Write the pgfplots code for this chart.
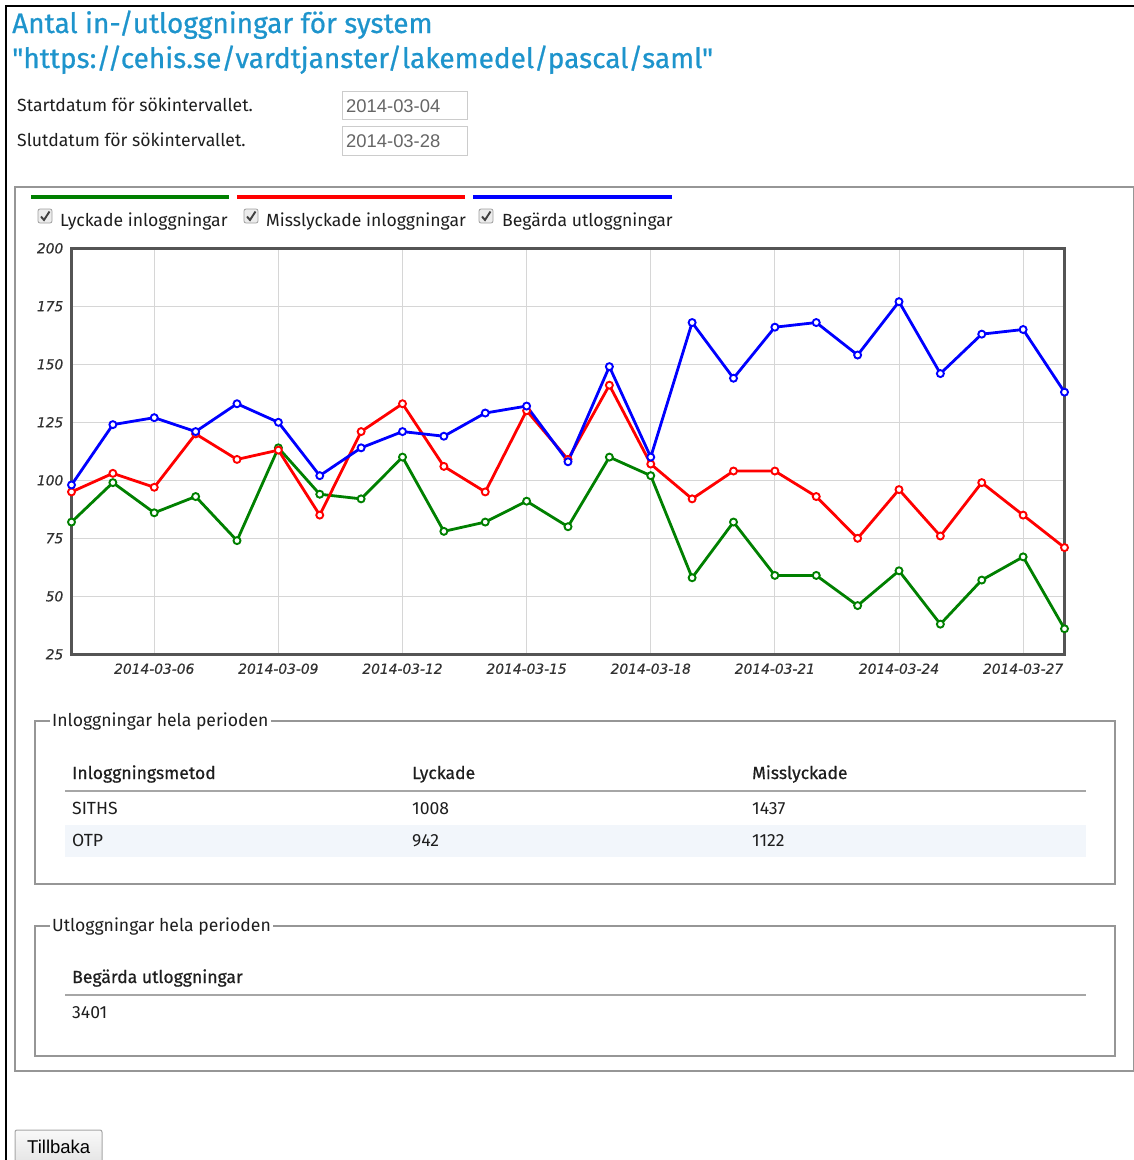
\documentclass[border=0pt]{standalone}
\usepackage{fontspec}
\setmainfont{Fira Sans}
\newfontfamily\titlefont[FakeBold=0.6]{Fira Sans}
\newfontfamily\tickfont[FakeBold=0.4]{DejaVu Sans}
\newfontfamily\inputfont{Liberation Sans}
\usepackage{pgfplots}
\usepackage{pgfplotstable}
\pgfplotsset{compat=1.18}

\definecolor{titleblue}{RGB}{30,148,204}
\definecolor{fgreen}{RGB}{0,128,0}
\definecolor{framegray}{RGB}{84,84,84}
\definecolor{gridgray}{RGB}{214,214,214}
\definecolor{boxgray}{RGB}{150,150,150}
\definecolor{rowbg}{RGB}{242,246,251}
\definecolor{tickgray}{RGB}{50,50,50}
\definecolor{txt}{RGB}{30,30,30}

% day 0 = 2014-03-04
\pgfplotstableread{
day lyck miss beg
0  82  95  98
1  99 103 124
2  86  97 127
3  93 120 121
4  74 109 133
5 114 113 125
6  94  85 102
7  92 121 114
8 110 133 121
9  78 106 119
10 82  95 129
11 91 130 132
12 80 109 108
13 110 141 149
14 102 107 110
15 58  92 168
16 82 104 144
17 59 104 166
18 59  93 168
19 46  75 154
20 61  96 177
21 38  76 146
22 57  99 163
23 67  85 165
24 36  71 138
}\logins

\newcommand{\fs}[1]{\fontsize{#1}{#1}\selectfont}
\newcommand{\body}{\fs{17.6}}
\newcommand{\cbox}[2]{%
  \draw[rounded corners=2pt, draw=gray!75, fill=gray!15, line width=0.8pt] (#1,#2) rectangle ++(14,14);
  \draw[line width=1.9pt, black!75] (#1+3,#2+7.5) -- (#1+6,#2+11) -- (#1+11.5,#2+2.5);}

\begin{document}
\begin{tikzpicture}
\useasboundingbox (0pt,0pt) rectangle (1134pt,-1160pt);
\begin{scope}[x=1pt,y=-1pt]
  % page frame
  \draw[black, line width=1.6pt] (6,1162) -- (6,6) -- (1136,6);
  % heading
  \node[anchor=base west, inner sep=0pt, text=titleblue, font=\titlefont\fs{28}] at (12,33) {Antal in-/utloggningar för system};
  \node[anchor=base west, inner sep=0pt, text=titleblue, font=\titlefont\fs{28}] at (12,68) {\char"22 https://cehis.se/vardtjanster/lakemedel/pascal/saml\char"22};
  % date fields
  \node[anchor=base west, inner sep=0pt, text=txt, font=\body] at (17,111) {Startdatum för sökintervallet.};
  \node[anchor=base west, inner sep=0pt, text=txt, font=\body] at (17,146) {Slutdatum för sökintervallet.};
  \draw[draw=gray!40, fill=white, line width=1pt] (342,91) rectangle (467,119);
  \draw[draw=gray!40, fill=white, line width=1pt] (342,126) rectangle (467,155);
  \node[anchor=base west, inner sep=0pt, text=gray!80!black, font=\inputfont\fs{18.4}] at (346,112) {2014-03-04};
  \node[anchor=base west, inner sep=0pt, text=gray!80!black, font=\inputfont\fs{18.4}] at (346,147) {2014-03-28};
  % outer fieldset
  \draw[draw=boxgray, line width=1.5pt] (15,187) rectangle (1134,1071);
  % legend
  \draw[fgreen, line width=4pt] (31,197) -- (229,197);
  \draw[red, line width=4pt] (237,197) -- (465,197);
  \draw[blue, line width=4pt] (473,197) -- (672,197);
  \cbox{38}{209}
  \cbox{244}{209}
  \cbox{479}{209}
  \node[anchor=base west, inner sep=0pt, text=txt, font=\body] at (60,226) {Lyckade inloggningar};
  \node[anchor=base west, inner sep=0pt, text=txt, font=\body] at (266,226) {Misslyckade inloggningar};
  \node[anchor=base west, inner sep=0pt, text=txt, font=\body] at (502,226) {Begärda utloggningar};
  % fieldset: logins
  \draw[draw=boxgray, line width=1.5pt] (35,721) rectangle (1115,884);
  \node[anchor=west, fill=white, inner xsep=2pt, inner ysep=1pt, text=txt, font=\body] at (50,721) {Inloggningar hela perioden};
  \fill[rowbg] (65,825) rectangle (1086,857);
  \draw[draw=gray!70, line width=1.5pt] (65,791) -- (1086,791);
  \node[anchor=base west, inner sep=0pt, text=txt, font=\titlefont\body] at (72,779) {Inloggningsmetod};
  \node[anchor=base west, inner sep=0pt, text=txt, font=\titlefont\body] at (412,779) {Lyckade};
  \node[anchor=base west, inner sep=0pt, text=txt, font=\titlefont\body] at (752,779) {Misslyckade};
  \node[anchor=base west, inner sep=0pt, text=txt, font=\body] at (72,814) {SITHS};
  \node[anchor=base west, inner sep=0pt, text=txt, font=\body] at (412,814) {1008};
  \node[anchor=base west, inner sep=0pt, text=txt, font=\body] at (752,814) {1437};
  \node[anchor=base west, inner sep=0pt, text=txt, font=\body] at (72,846) {OTP};
  \node[anchor=base west, inner sep=0pt, text=txt, font=\body] at (412,846) {942};
  \node[anchor=base west, inner sep=0pt, text=txt, font=\body] at (752,846) {1122};
  % fieldset: logouts
  \draw[draw=boxgray, line width=1.5pt] (35,926) rectangle (1115,1056);
  \node[anchor=west, fill=white, inner xsep=2pt, inner ysep=1pt, text=txt, font=\body] at (50,926) {Utloggningar hela perioden};
  \draw[draw=gray!70, line width=1.5pt] (65,995) -- (1086,995);
  \node[anchor=base west, inner sep=0pt, text=txt, font=\titlefont\body] at (72,983) {Begärda utloggningar};
  \node[anchor=base west, inner sep=0pt, text=txt, font=\body] at (72,1018) {3401};
  % back button
  \shade[top color=gray!5, bottom color=gray!22, draw=gray!70, line width=1pt, rounded corners=2pt] (15,1130) rectangle (102,1166);
  \node[anchor=base west, inner sep=0pt, text=black, font=\inputfont\fs{18.5}] at (27,1153) {Tillbaka};
\end{scope}

\begin{axis}[
    at={(71.5pt,-654.3pt)}, anchor=south west,
    scale only axis, width=993pt, height=406pt,
    xmin=0, xmax=24, ymin=25, ymax=200,
    xtick={2,5,8,11,14,17,20,23},
    xticklabels={2014-03-06,2014-03-09,2014-03-12,2014-03-15,2014-03-18,2014-03-21,2014-03-24,2014-03-27},
    ytick={25,50,75,100,125,150,175,200},
    yticklabels={25,50,75,100,125,150,175,200},
    grid=major,
    major grid style={draw=gridgray, line width=1pt},
    major tick length=0pt,
    axis line style={draw=framegray, line width=2.6pt},
    ticklabel style={font=\tickfont\itshape\fs{13.8}, text=tickgray},
    xticklabel style={anchor=north, inner sep=0pt, yshift=-9pt},
    yticklabel style={anchor=east, inner sep=0pt, xshift=-8pt},
    clip=false,
    every axis plot/.append style={line width=2.8pt, mark=*, mark size=3.5pt},
]
\addplot[fgreen, mark options={fill=white, draw=fgreen, line width=1.9pt}] table[x=day, y=lyck] {\logins};
\addplot[red, mark options={fill=white, draw=red, line width=1.9pt}] table[x=day, y=miss] {\logins};
\addplot[blue, mark options={fill=white, draw=blue, line width=1.9pt}] table[x=day, y=beg] {\logins};
\end{axis}
\end{tikzpicture}
\end{document}
